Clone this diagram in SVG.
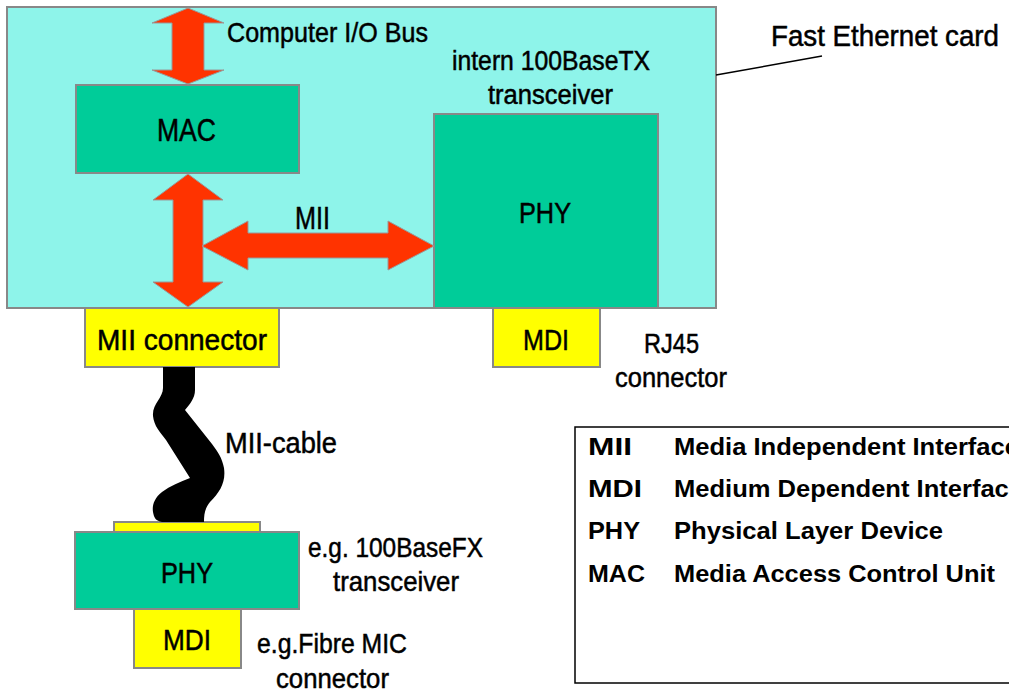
<svg xmlns="http://www.w3.org/2000/svg" width="1009" height="693" viewBox="0 0 1009 693">
<style>
.box{stroke:#888;stroke-width:2}
.card{fill:#8ef4ea}
.grn{fill:#00cc99}
.yel{fill:#ffff00}
.arr{fill:#ff3300;stroke:#999;stroke-width:1;stroke-linejoin:miter}
.t{font-family:"Liberation Sans Narrow","Liberation Sans",Arial,sans-serif;fill:#000;stroke:#000;stroke-width:0.5}
.lg{font-family:"Liberation Sans",Arial,sans-serif;font-weight:bold;font-size:23px;fill:#000}
</style>
<rect width="1009" height="693" fill="#ffffff"/>
<g id="card">
<rect class="box card" x="7" y="7" width="709" height="301"/>
</g>
<g id="mac">
<rect class="box grn" x="76" y="85" width="223" height="88"/>
<text class="t" x="157" y="141" font-size="31" textLength="59" lengthAdjust="spacingAndGlyphs">MAC</text>
</g>
<g id="phy-int">
<rect class="box grn" x="434" y="114" width="224" height="194"/>
<text class="t" x="519" y="223" font-size="30" textLength="52" lengthAdjust="spacingAndGlyphs">PHY</text>
</g>
<g id="mii-connector">
<rect class="box yel" x="85" y="308" width="194" height="59"/>
<text class="t" x="97" y="350" font-size="30" textLength="170" lengthAdjust="spacingAndGlyphs">MII connector</text>
</g>
<g id="mdi-int">
<rect class="box yel" x="493" y="308" width="107" height="59"/>
<text class="t" x="523" y="350" font-size="30" textLength="46" lengthAdjust="spacingAndGlyphs">MDI</text>
</g>
<g id="ext-connector">
<rect class="box yel" x="114" y="522" width="146" height="11"/>
</g>
<g id="phy-ext">
<rect class="box grn" x="75" y="532" width="224" height="77"/>
<text class="t" x="161" y="583" font-size="30" textLength="52" lengthAdjust="spacingAndGlyphs">PHY</text>
</g>
<g id="mdi-ext">
<rect class="box yel" x="134" y="609" width="107" height="59"/>
<text class="t" x="163" y="650" font-size="30" textLength="48" lengthAdjust="spacingAndGlyphs">MDI</text>
</g>
<g id="connectors">
<polygon class="arr" points="188,8 224,23 204,23 204,70 224,70 188,84 152,70 172,70 172,23 152,23"/>
<polygon class="arr" points="188,174 223,200 203,200 203,282 223,282 188,307 153,282 173,282 173,200 153,200"/>
<polygon class="arr" points="202,246 248,221 248,233 388,233 388,221 434,246 388,270 388,258 248,258 248,270"/>
<path d="M163,367 L163,388 C163,398 152,404 153,416 C154,426 160,432 166,440 L190,478 C180,482 170,486 162,492 C154,498 152,506 153,512 C154,518 156,521 162,522 L204,522 C204,514 205,508 210,502 C220,492 226,482 224,468 C222,458 218,452 212,444 L185,410 C190,404 195,398 195,390 L195,367 Z" fill="#000"/>
<line x1="716" y1="75" x2="822" y2="56" stroke="#000" stroke-width="1.5"/>
</g>
<g id="labels">
<text class="t" x="227" y="42" font-size="28" textLength="201" lengthAdjust="spacingAndGlyphs">Computer I/O Bus</text>
<text class="t" x="295" y="229" font-size="31" textLength="35" lengthAdjust="spacingAndGlyphs">MII</text>
<text class="t" x="452" y="70" font-size="27" textLength="198" lengthAdjust="spacingAndGlyphs">intern 100BaseTX</text>
<text class="t" x="488" y="104" font-size="27" textLength="125" lengthAdjust="spacingAndGlyphs">transceiver</text>
<text class="t" x="771" y="46" font-size="29" textLength="228" lengthAdjust="spacingAndGlyphs">Fast Ethernet card</text>
<text class="t" x="644" y="353" font-size="28" textLength="55" lengthAdjust="spacingAndGlyphs">RJ45</text>
<text class="t" x="615" y="387" font-size="28" textLength="112" lengthAdjust="spacingAndGlyphs">connector</text>
<text class="t" x="225" y="453" font-size="29" textLength="112" lengthAdjust="spacingAndGlyphs">MII-cable</text>
<text class="t" x="308" y="557" font-size="28" textLength="175" lengthAdjust="spacingAndGlyphs">e.g. 100BaseFX</text>
<text class="t" x="333" y="591" font-size="28" textLength="126" lengthAdjust="spacingAndGlyphs">transceiver</text>
<text class="t" x="257" y="653" font-size="28" textLength="150" lengthAdjust="spacingAndGlyphs">e.g.Fibre MIC</text>
<text class="t" x="276" y="688" font-size="28" textLength="113" lengthAdjust="spacingAndGlyphs">connector</text>
</g>
<g id="legend">
<rect x="575" y="427" width="460" height="256" fill="#fff" stroke="#000" stroke-width="1.5"/>
<text class="lg" x="588" y="455" textLength="44" lengthAdjust="spacingAndGlyphs">MII</text>
<text class="lg" x="674" y="455" textLength="345" lengthAdjust="spacingAndGlyphs">Media Independent Interface</text>
<text class="lg" x="588" y="497" textLength="54" lengthAdjust="spacingAndGlyphs">MDI</text>
<text class="lg" x="674" y="497" textLength="349" lengthAdjust="spacingAndGlyphs">Medium Dependent Interface</text>
<text class="lg" x="588" y="539" textLength="52" lengthAdjust="spacingAndGlyphs">PHY</text>
<text class="lg" x="674" y="539" textLength="269" lengthAdjust="spacingAndGlyphs">Physical Layer Device</text>
<text class="lg" x="588" y="582" textLength="57" lengthAdjust="spacingAndGlyphs">MAC</text>
<text class="lg" x="674" y="582" textLength="321" lengthAdjust="spacingAndGlyphs">Media Access Control Unit</text>
</g>
</svg>
